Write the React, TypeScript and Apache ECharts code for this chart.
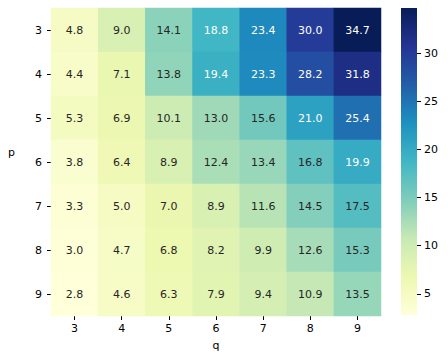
import React, { useEffect, useRef } from "react";
import * as echarts from "echarts";

const qLabels = ["3", "4", "5", "6", "7", "8", "9"];
const pLabels = ["3", "4", "5", "6", "7", "8", "9"];
const values: number[][] = [
  [4.8, 9.0, 14.1, 18.8, 23.4, 30.0, 34.7],
  [4.4, 7.1, 13.8, 19.4, 23.3, 28.2, 31.8],
  [5.3, 6.9, 10.1, 13.0, 15.6, 21.0, 25.4],
  [3.8, 6.4, 8.9, 12.4, 13.4, 16.8, 19.9],
  [3.3, 5.0, 7.0, 8.9, 11.6, 14.5, 17.5],
  [3.0, 4.7, 6.8, 8.2, 9.9, 12.6, 15.3],
  [2.8, 4.6, 6.3, 7.9, 9.4, 10.9, 13.5],
];
const colorbarTicks = [5, 10, 15, 20, 25, 30];

const YLGNBU = [
  "#ffffd9", "#edf8b1", "#c7e9b4", "#7fcdbb", "#41b6c4",
  "#1d91c0", "#225ea8", "#253494", "#081d58",
];

function hexToRgb(h: string) {
  return [parseInt(h.slice(1, 3), 16), parseInt(h.slice(3, 5), 16), parseInt(h.slice(5, 7), 16)];
}
function cmap(t: number) {
  const x = Math.max(0, Math.min(1, t)) * (YLGNBU.length - 1);
  const i = Math.min(YLGNBU.length - 2, Math.floor(x));
  const f = x - i;
  const a = hexToRgb(YLGNBU[i]);
  const b = hexToRgb(YLGNBU[i + 1]);
  return a.map((v, k) => v + (b[k] - v) * f);
}
function luminance(rgb: number[]) {
  const c = rgb.map((v) => {
    const s = v / 255;
    return s <= 0.03928 ? s / 12.92 : Math.pow((s + 0.055) / 1.055, 2.4);
  });
  return 0.2126 * c[0] + 0.7152 * c[1] + 0.0722 * c[2];
}

export default function App() {
  const ref = useRef<HTMLDivElement>(null);
  useEffect(() => {
    document.body.style.margin = "0";
    if (!ref.current) return;
    const chart = echarts.init(ref.current, undefined, { renderer: "svg" });
    const all = values.flat();
    const vmin = Math.min(...all);
    const vmax = Math.max(...all);
    const data: any[] = [];
    values.forEach((row, pi) =>
      row.forEach((v, qi) => {
        const lum = luminance(cmap((v - vmin) / (vmax - vmin)));
        data.push({
          value: [qi, pi, v],
          label: { color: lum < 0.408 ? "#ffffff" : "#262626" },
        });
      })
    );
    const font = "'DejaVu Sans', sans-serif";
    const cbLeft = 401, cbTop = 8, cbW = 16, cbH = 307;
    const tickStyle = { show: true, length: 4, lineStyle: { color: "#000", width: 1 } };
    chart.setOption({
      animation: false,
      textStyle: { fontFamily: font },
      grid: [
        { left: 51, top: 8, width: 330, height: 308 },
        { left: cbLeft, top: cbTop, width: cbW, height: cbH },
      ],
      xAxis: [
        {
          type: "category",
          data: qLabels,
          gridIndex: 0,
          position: "bottom",
          name: "q",
          nameLocation: "middle",
          nameGap: 24,
          nameTextStyle: { color: "#000", fontSize: 11, fontFamily: font },
          axisLine: { show: false },
          axisTick: { ...tickStyle, alignWithLabel: true },
          axisLabel: { color: "#000", fontSize: 11, margin: 7, fontFamily: font },
          splitLine: { show: false },
        },
        { type: "category", data: [""], gridIndex: 1, show: false },
      ],
      yAxis: [
        {
          type: "category",
          data: pLabels,
          gridIndex: 0,
          inverse: true,
          axisLine: { show: false },
          axisTick: { ...tickStyle, alignWithLabel: true },
          axisLabel: { color: "#000", fontSize: 11, margin: 9, fontFamily: font },
          splitLine: { show: false },
        },
        {
          type: "value",
          gridIndex: 1,
          position: "right",
          min: vmin,
          max: vmax,
          axisLine: { show: false },
          axisTick: { ...tickStyle, customValues: colorbarTicks },
          axisLabel: { color: "#000", fontSize: 11, margin: 7, customValues: colorbarTicks, fontFamily: font },
          splitLine: { show: false },
        },
      ],
      visualMap: {
        show: false,
        min: vmin,
        max: vmax,
        dimension: 2,
        seriesIndex: 0,
        inRange: { color: YLGNBU },
      },
      graphic: [
        {
          type: "text",
          left: 8,
          top: 147,
          style: { text: "p", fontSize: 11, fill: "#000", fontFamily: font },
        },
        {
          type: "rect",
          shape: { x: cbLeft, y: cbTop, width: cbW, height: cbH },
          style: {
            fill: {
              type: "linear",
              x: 0, y: 1, x2: 0, y2: 0,
              colorStops: YLGNBU.map((c, i) => ({ offset: i / (YLGNBU.length - 1), color: c })),
            },
          },
          z: 10,
        },
      ],
      series: [
        {
          type: "heatmap",
          xAxisIndex: 0,
          yAxisIndex: 0,
          data,
          label: {
            show: true,
            fontSize: 11,
            fontFamily: font,
            formatter: (p: any) => p.value[2].toFixed(1),
          },
          itemStyle: { borderWidth: 0 },
          emphasis: { disabled: true },
        },
        { type: "line", xAxisIndex: 1, yAxisIndex: 1, data: [], silent: true },
      ],
    });
    return () => chart.dispose();
  }, []);
  return <div ref={ref} style={{ width: 448, height: 359 }} />;
}
